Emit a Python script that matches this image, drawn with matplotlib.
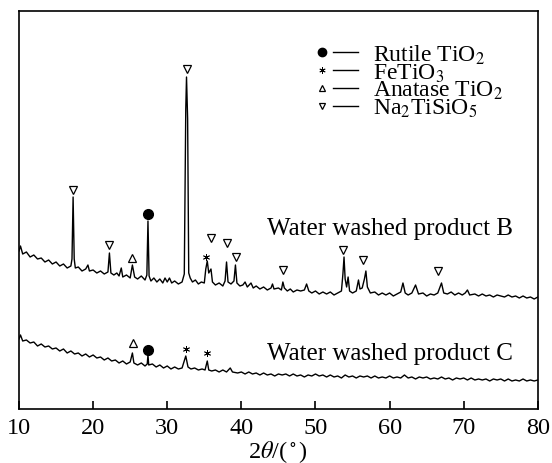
import matplotlib
matplotlib.use('Agg')
from matplotlib import pyplot as plt

plt.rcParams['font.family'] = ['Liberation Serif', 'DejaVu Serif']
plt.rcParams['mathtext.fontset'] = 'stix'

# XRD pattern, water washed product B (2theta in degrees, intensity in a.u.)
b_x = [10.0, 10.2, 10.5, 11.0, 11.5, 12.0, 12.5, 13.0, 13.5, 14.0, 14.5, 15.0, 15.5, 16.0, 16.5,
       17.0, 17.15, 17.3, 17.45, 17.6, 18.0, 18.5, 19.0, 19.3, 19.5, 20.0, 20.5, 21.0, 21.5, 22.0,
       22.2, 22.4, 22.8, 23.2, 23.5, 23.8, 24.0, 24.5, 25.0, 25.3, 25.6, 26.0, 26.5, 27.0, 27.25,
       27.4, 27.55, 27.8, 28.2, 28.6, 29.0, 29.4, 29.7, 30.0, 30.3, 30.6, 31.0, 31.5, 32.0, 32.3,
       32.5, 32.6, 32.75, 32.9, 33.1, 33.4, 33.8, 34.2, 34.6, 35.0, 35.2, 35.4, 35.6, 35.9, 36.1,
       36.5, 37.0, 37.5, 37.8, 38.0, 38.2, 38.6, 39.0, 39.2, 39.4, 39.8, 40.2, 40.5, 40.8, 41.3,
       41.6, 42.0, 42.5, 43.0, 43.5, 44.0, 44.2, 44.4, 45.0, 45.4, 45.6, 45.8, 46.2, 46.6, 47.0,
       47.5, 48.0, 48.5, 48.8, 49.1, 49.5, 50.0, 50.5, 51.0, 51.5, 52.0, 52.5, 53.0, 53.5, 53.7,
       53.85, 54.0, 54.2, 54.4, 54.6, 55.0, 55.5, 55.8, 56.0, 56.3, 56.6, 56.8, 57.0, 57.4, 58.0,
       58.5, 59.0, 59.5, 60.0, 60.5, 61.0, 61.5, 61.8, 62.1, 62.5, 63.0, 63.5, 63.9, 64.5, 65.0,
       65.5, 66.0, 66.5, 67.0, 67.3, 67.8, 68.3, 68.8, 69.3, 69.8, 70.2, 70.5, 70.8, 71.5, 72.0,
       72.5, 73.0, 73.5, 74.0, 74.5, 75.0, 75.5, 76.0, 76.5, 77.0, 77.5, 78.0, 78.5, 79.0, 79.5,
       80.0]
b_y = [158, 163, 155, 157, 152, 154, 150, 151, 147, 149, 145, 147, 143, 145, 141,
       143, 150, 212, 150, 141, 142, 138, 140, 144, 138, 139, 136, 138, 135, 137,
       156, 136, 134, 136, 133, 141, 132, 134, 131, 144, 132, 130, 133, 129, 134,
       188, 133, 128, 131, 127, 130, 126, 131, 127, 131, 126, 128, 125, 127, 135,
       300, 332, 290, 136, 131, 127, 129, 125, 127, 126, 140, 148, 136, 140, 127,
       124, 126, 123, 128, 147, 127, 125, 128, 144, 126, 123, 124, 127, 122, 126,
       121, 123, 120, 122, 119, 121, 125, 120, 121, 119, 127, 121, 118, 120, 117,
       119, 118, 119, 125, 118, 116, 118, 115, 117, 115, 117, 114, 116, 118, 135,
       152, 130, 122, 132, 118, 116, 118, 129, 120, 121, 130, 138, 122, 116, 117,
       114, 116, 114, 116, 113, 115, 117, 126, 116, 114, 116, 124, 115, 116, 113,
       115, 114, 116, 126, 116, 115, 117, 114, 116, 114, 116, 119, 114, 115, 113,
       115, 113, 114, 112, 114, 113, 112, 114, 112, 113, 111, 113, 111, 112, 110,
       112]

# XRD pattern, water washed product C
c_x = [10.0, 10.2, 10.5, 11.0, 11.5, 12.0, 12.5, 13.0, 13.5, 14.0, 14.5, 15.0, 15.5, 16.0, 16.5,
       17.0, 17.5, 18.0, 18.5, 19.0, 19.5, 20.0, 20.5, 21.0, 21.5, 22.0, 22.5, 23.0, 23.5, 24.0,
       24.5, 25.0, 25.3, 25.5, 26.0, 26.5, 27.0, 27.3, 27.4, 27.5, 28.0, 28.5, 29.0, 29.5, 30.0,
       30.5, 31.0, 31.5, 32.0, 32.5, 32.8, 33.2, 33.7, 34.2, 34.7, 35.1, 35.4, 35.6, 36.0, 36.5,
       37.0, 37.5, 38.0, 38.5, 38.8, 39.5, 40.0, 40.5, 41.0, 41.5, 42.0, 42.5, 43.0, 43.5, 44.0,
       44.5, 45.0, 45.5, 46.0, 46.5, 47.0, 47.5, 48.0, 48.5, 49.0, 49.5, 50.0, 50.5, 51.0, 51.5,
       52.0, 52.5, 53.0, 53.5, 54.0, 54.5, 55.0, 55.5, 56.0, 56.5, 57.0, 57.5, 58.0, 58.5, 59.0,
       59.5, 60.0, 60.5, 61.0, 61.5, 62.0, 62.5, 63.0, 63.5, 64.0, 64.5, 65.0, 65.5, 66.0, 66.5,
       67.0, 67.5, 68.0, 68.5, 69.0, 69.5, 70.0, 70.5, 71.0, 71.5, 72.0, 72.5, 73.0, 73.5, 74.0,
       74.5, 75.0, 75.5, 76.0, 76.5, 77.0, 77.5, 78.0, 78.5, 79.0, 79.5, 80.0]
c_y = [70, 74, 68, 69, 66, 67, 63, 65, 62, 63, 60, 61, 58, 60, 56,
       58, 55, 56, 53, 55, 52, 54, 51, 52, 49, 51, 48, 49, 46, 48,
       45, 47, 56, 46, 44, 46, 43, 45, 54, 44, 45, 42, 44, 41, 43,
       40, 42, 40, 41, 53, 42, 40, 41, 39, 40, 39, 48, 39, 38, 39,
       37, 39, 37, 41, 37, 36, 37, 35, 37, 35, 36, 34, 36, 34, 35,
       33, 35, 34, 35, 33, 35, 33, 34, 32, 34, 33, 35, 33, 34, 32,
       34, 32, 33, 31, 34, 32, 33, 31, 33, 32, 33, 31, 33, 31, 32,
       31, 33, 31, 32, 31, 34, 31, 32, 30, 32, 31, 32, 30, 31, 30,
       32, 30, 31, 29, 31, 30, 31, 29, 31, 29, 30, 29, 30, 28, 30,
       29, 30, 28, 30, 28, 29, 28, 30, 28, 29, 28, 29]

# phase markers (x = 2theta, y = height above the peak)
na_x = [17.3, 22.2, 32.6, 35.9, 38.1, 39.3, 45.6, 53.7, 56.4, 66.5]
na_y = [219, 164, 340, 171, 166, 152, 139, 159, 149, 138]
anatase_x = [25.3, 25.4]
anatase_y = [151, 66]
rutile_x = [27.4, 27.4]
rutile_y = [195, 59]
fe_x = [35.2, 32.5, 35.3]
fe_y = [152, 60, 56]

legend_labels = ['Rutile TiO$_2$', 'FeTiO$_3$', 'Anatase TiO$_2$', 'Na$_2$TiSiO$_5$']
xticks = [10, 20, 30, 40, 50, 60, 70, 80]

star = (6, 2, 0)

fig = plt.figure(figsize=(5.52, 4.64), dpi=100)
ax = fig.add_axes([0.0344, 0.1164, 0.94, 0.8577])

ax.plot(b_x, b_y, color='black', lw=1.0)
ax.plot(c_x, c_y, color='black', lw=1.0)

ax.plot(na_x, na_y, ls='none', marker='v', ms=6, mfc='white', mec='black', mew=0.9)
ax.plot(anatase_x, anatase_y, ls='none', marker='^', ms=6, mfc='white', mec='black', mew=0.9)
ax.plot(rutile_x, rutile_y, ls='none', marker='o', ms=7, color='black')
ax.plot(fe_x, fe_y, ls='none', marker=star, ms=5, color='black', mew=0.6)

ax.text(43.5, 175, 'Water washed product B', fontsize=18, va='baseline')
ax.text(43.5, 50, 'Water washed product C', fontsize=18, va='baseline')

# legend drawn by hand so the rows can sit tight like the original
leg_markers = [dict(marker='o', ms=6, mfc='black', mec='black'),
               dict(marker=star, ms=4.5, mfc='black', mec='black', mew=0.6),
               dict(marker='^', ms=5, mfc='white', mec='black', mew=0.9),
               dict(marker='v', ms=5, mfc='white', mec='black', mew=0.9)]
row_y = [0.896, 0.851, 0.806, 0.761]
for lab, mk, y in zip(legend_labels, leg_markers, row_y):
    ax.plot([0.584], [y], ls='none', transform=ax.transAxes, **mk)
    ax.plot([0.605, 0.653], [y, y], color='black', lw=1.0, transform=ax.transAxes)
    ax.text(0.682, y - 0.020, lab, fontsize=17, va='baseline', transform=ax.transAxes)

ax.set_xlim(10, 80)
ax.set_ylim(0, 398)
ax.set_xticks(xticks)
ax.set_yticks([])
ax.tick_params(axis='x', direction='in', length=6, width=1.2, labelsize=17.5, pad=6)
for s in ax.spines.values():
    s.set_linewidth(1.2)
ax.set_xlabel(r'2$\theta$/($^\circ$)', fontsize=17.5, labelpad=0)

fig.savefig('out.png', dpi=100)
